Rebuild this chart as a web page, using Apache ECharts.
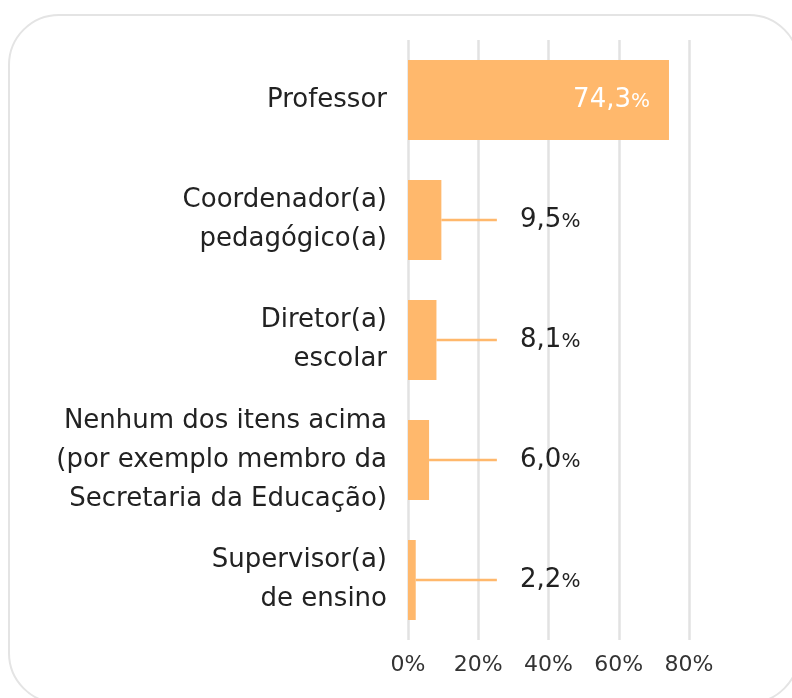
<!DOCTYPE html>
<html>
<head>
<meta charset="utf-8">
<script src="https://cdn.jsdelivr.net/npm/echarts@6/dist/echarts.min.js"></script>
<style>
html,body{margin:0;padding:0;background:#fff;}
#chart{width:792px;height:698px;}
</style>
</head>
<body>
<div id="chart"></div>
<script>
var categories = [
  'Professor',
  'Coordenador(a)\npedagógico(a)',
  'Diretor(a)\nescolar',
  'Nenhum dos itens acima\n(por exemplo membro da\nSecretaria da Educação)',
  'Supervisor(a)\nde ensino'
];
var values = [74.3, 9.5, 8.1, 6.0, 2.2];
var xTicks = [0, 20, 40, 60, 80];
var leaderEnd = 25.3;   // value where leader lines stop
var labelStart = 31.9;  // value where outside labels begin

var FONT = '"DejaVu Sans", "Noto Sans", sans-serif';
var ORANGE = '#ffb86c';

function fmt(v){ return v.toFixed(1).replace('.', ','); }

var chart = echarts.init(document.getElementById('chart'), null, {renderer:'canvas'});

var outsideData = values.map(function(v, i){ return [v, i]; }).filter(function(d){ return d[1] > 0; });

chart.setOption({
  animation: false,
  backgroundColor: '#fff',
  graphic: [{
    type: 'rect',
    shape: {x: 9, y: 15, width: 790, height: 688, r: 50},
    style: {fill: 'none', stroke: '#e4e4e4', lineWidth: 2},
    z: -10
  }],
  grid: {left: 408, right: 103, top: 40, bottom: 58, containLabel: false},
  xAxis: {
    type: 'value',
    min: xTicks[0],
    max: xTicks[xTicks.length - 1],
    interval: 20,
    axisLine: {show: false},
    axisTick: {show: false},
    splitLine: {show: true, lineStyle: {color: '#e2e2e2', width: 2.5}},
    axisLabel: {
      formatter: '{value}%',
      color: '#333',
      fontSize: 22,
      fontFamily: FONT,
      margin: 14
    }
  },
  yAxis: {
    type: 'category',
    data: categories,
    inverse: true,
    axisLine: {show: false},
    axisTick: {show: false},
    splitLine: {show: false},
    axisLabel: {
      color: '#222',
      fontSize: 26,
      lineHeight: 39,
      fontFamily: FONT,
      margin: 21,
      align: 'right'
    }
  },
  series: [{
    type: 'bar',
    data: values.map(function(v, i){
      if (i === 0) {
        return {
          value: v,
          label: {
            show: true,
            position: 'insideRight',
            distance: 19,
            formatter: function(p){ return '{n|' + fmt(p.value) + '}{p|%}'; },
            rich: {
              n: {color: '#fff', fontSize: 26, fontFamily: FONT},
              p: {color: '#fff', fontSize: 20, fontFamily: FONT, padding: [4,0,0,0]}
            }
          }
        };
      }
      return v;
    }),
    barWidth: 80,
    itemStyle: {color: ORANGE},
    label: {show: false},
    z: 2
  }, {
    type: 'custom',
    data: outsideData,
    z: 3,
    renderItem: function(params, api){
      var v = api.value(0), c = api.value(1);
      var start = api.coord([v, c]);
      var end = api.coord([leaderEnd, c]);
      var txt = api.coord([labelStart, c]);
      return {
        type: 'group',
        children: [{
          type: 'line',
          shape: {x1: start[0], y1: start[1], x2: end[0], y2: end[1]},
          style: {stroke: ORANGE, lineWidth: 2.5}
        }, {
          type: 'text',
          x: txt[0], y: txt[1],
          style: {
            text: '{n|' + fmt(v) + '}{p|%}',
            verticalAlign: 'middle',
            align: 'left',
            rich: {
              n: {fill: '#222', fontSize: 26, fontFamily: FONT},
              p: {fill: '#222', fontSize: 20, fontFamily: FONT, padding: [4,0,0,0]}
            }
          }
        }]
      };
    }
  }]
});
</script>
</body>
</html>
